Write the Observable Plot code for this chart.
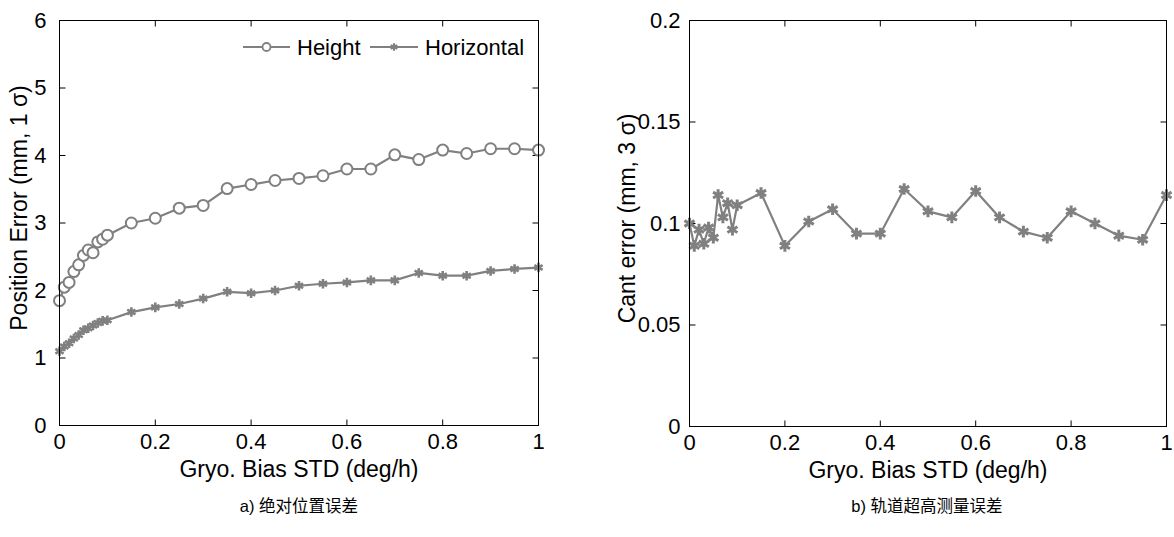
<!DOCTYPE html>
<html>
<head>
<meta charset="utf-8">
<script src="https://cdn.jsdelivr.net/npm/d3@7"></script>
<script src="https://cdn.jsdelivr.net/npm/@observablehq/plot@0.6"></script>
<style>
  body { margin: 0; background: white; }
  #wrap { position: relative; width: 1174px; height: 537px; overflow: hidden; background: white;
          font-family: "Liberation Sans", Arial, sans-serif; }
  .pane { position: absolute; top: 0; }
  .cap { position: absolute; top: 493px; font-size: 16.5px; text-align: center; width: 400px;
         font-family: "Liberation Sans", Arial, "Noto Sans CJK SC", sans-serif; color: #000; }
</style>
</head>
<body>
<div id="wrap">
  <div class="pane" id="left" style="left:0px"></div>
  <div class="pane" id="right" style="left:587px"></div>
  <div class="cap" style="left:99px">a) 绝对位置误差</div>
  <div class="cap" style="left:727px">b) 轨道超高测量误差</div>
</div>
<script>
// ---- data ----
const gyroBias = [0, 0.01, 0.02, 0.03, 0.04, 0.05, 0.06, 0.07, 0.08, 0.09, 0.1,
  0.15, 0.2, 0.25, 0.3, 0.35, 0.4, 0.45, 0.5, 0.55, 0.6, 0.65, 0.7, 0.75, 0.8, 0.85, 0.9, 0.95, 1.0];
const heightErr = [1.85, 2.05, 2.12, 2.28, 2.38, 2.52, 2.6, 2.56, 2.72, 2.76, 2.82,
  3.00, 3.07, 3.22, 3.26, 3.51, 3.57, 3.63, 3.66, 3.70, 3.80, 3.80, 4.01, 3.94, 4.08, 4.03, 4.10, 4.10, 4.08];
const horizErr = [1.10, 1.17, 1.22, 1.29, 1.34, 1.41, 1.44, 1.48, 1.52, 1.55, 1.56,
  1.68, 1.75, 1.80, 1.88, 1.98, 1.96, 2.00, 2.07, 2.10, 2.12, 2.15, 2.15, 2.26, 2.22, 2.22, 2.29, 2.32, 2.34];
const cantErr = [0.100, 0.089, 0.097, 0.090, 0.098, 0.093, 0.114, 0.103, 0.110, 0.097, 0.109,
  0.115, 0.089, 0.101, 0.107, 0.095, 0.095, 0.117, 0.106, 0.103, 0.116, 0.103, 0.096, 0.093, 0.106, 0.100, 0.094, 0.092, 0.114];
const xTicks = [0, 0.2, 0.4, 0.6, 0.8, 1];
const yTicksLeft = [0, 1, 2, 3, 4, 5, 6];
const yTicksRight = [0, 0.05, 0.1, 0.15, 0.2];
const seriesNames = ["Height", "Horizontal"];
const xLabel = "Gryo. Bias STD (deg/h)";
const yLabelLeft = "Position Error (mm, 1 σ)";
const yLabelRight = "Cant error (mm, 3 σ)";

const gray = "#808080";
const font = "'Liberation Sans', Arial, sans-serif";

const dataLeft = gyroBias.map((x, i) => ({x, h: heightErr[i], z: horizErr[i]}));
const dataRight = gyroBias.map((x, i) => ({x, c: cantErr[i]}));

function tickMarks(xDom, yDom, xT, yT, plotW, plotH, len) {
  const lx = (xDom[1] - xDom[0]) * len / plotW;
  const ly = (yDom[1] - yDom[0]) * len / plotH;
  return [
    Plot.link(yT, {x1: xDom[0], x2: xDom[0] + lx, y1: d => d, y2: d => d, stroke: "black"}),
    Plot.link(yT, {x1: xDom[1], x2: xDom[1] - lx, y1: d => d, y2: d => d, stroke: "black"}),
    Plot.link(xT, {y1: yDom[0], y2: yDom[0] + ly, x1: d => d, x2: d => d, stroke: "black"}),
    Plot.link(xT, {y1: yDom[1], y2: yDom[1] - ly, x1: d => d, x2: d => d, stroke: "black"})
  ];
}

const W = 587, H = 485;

// ---- left panel ----
{
  const mL = 59, mR = 49, mT = 20, mB = 60;
  const xDom = [0, 1], yDom = [0, 6];
  const plot = Plot.plot({
    width: W, height: H, marginLeft: mL, marginRight: mR, marginTop: mT, marginBottom: mB,
    x: {domain: xDom}, y: {domain: yDom},
    style: {fontFamily: font, fontSize: "22px", background: "transparent", color: "black", overflow: "visible"},
    marks: [
      Plot.axisX({ticks: xTicks, tickSize: 0, tickPadding: 8, tickFormat: d => String(d), label: null}),
      Plot.axisY({ticks: yTicksLeft, tickSize: 0, tickPadding: 13, tickFormat: d => String(d), label: null}),
      ...tickMarks(xDom, yDom, xTicks, yTicksLeft, W - mL - mR, H - mT - mB, 6),
      Plot.line(dataLeft, {x: "x", y: "h", stroke: gray, strokeWidth: 2.2}),
      Plot.dot(dataLeft, {x: "x", y: "h", r: 5.5, stroke: gray, strokeWidth: 2, fill: "white"}),
      Plot.line(dataLeft, {x: "x", y: "z", stroke: gray, strokeWidth: 2.2}),
      Plot.dot(dataLeft, {x: "x", y: "z", r: 4.5, symbol: "asterisk", stroke: gray, strokeWidth: 2.6}),
      Plot.frame({stroke: "black"}),
      Plot.text([yLabelLeft], {text: d => d, frameAnchor: "left", textAnchor: "middle", lineAnchor: "middle",
        rotate: -90, dx: -40, dy: -15, fontSize: 23}),
      Plot.text([xLabel], {text: d => d, frameAnchor: "bottom", textAnchor: "middle", lineAnchor: "middle",
        dy: 44, fontSize: 23})
    ]
  });
  document.getElementById("left").appendChild(plot);

  // legend overlay
  const svg = d3.select("#left").append("svg")
    .attr("width", W).attr("height", 80)
    .style("position", "absolute").style("left", "0px").style("top", "0px")
    .style("pointer-events", "none").style("font-family", font).style("font-size", "22px");
  const ly = 47;
  const items = [
    {x0: 243, x1: 290, tx: 297, name: seriesNames[0], sym: "circle"},
    {x0: 370, x1: 418, tx: 425, name: seriesNames[1], sym: "asterisk"}
  ];
  for (const it of items) {
    svg.append("line").attr("x1", it.x0).attr("x2", it.x1).attr("y1", ly).attr("y2", ly)
      .attr("stroke", gray).attr("stroke-width", 2);
    const cx = (it.x0 + it.x1) / 2;
    if (it.sym === "circle") {
      svg.append("circle").attr("cx", cx).attr("cy", ly).attr("r", 4)
        .attr("fill", "white").attr("stroke", gray).attr("stroke-width", 1.8);
    } else {
      svg.append("path").attr("transform", `translate(${cx},${ly})`)
        .attr("d", d3.symbol(d3.symbolAsterisk, 40)())
        .attr("fill", "none").attr("stroke", gray).attr("stroke-width", 2.2);
    }
    svg.append("text").attr("x", it.tx).attr("y", ly).attr("dy", "0.36em").text(it.name);
  }
}

// ---- right panel ----
{
  const mL = 102, mR = 8, mT = 20, mB = 59;
  const xDom = [0, 1], yDom = [0, 0.2];
  const plot = Plot.plot({
    width: W, height: H, marginLeft: mL, marginRight: mR, marginTop: mT, marginBottom: mB,
    x: {domain: xDom}, y: {domain: yDom},
    style: {fontFamily: font, fontSize: "22px", background: "transparent", color: "black", overflow: "visible"},
    marks: [
      Plot.axisX({ticks: xTicks, tickSize: 0, tickPadding: 8, tickFormat: d => String(d), label: null}),
      Plot.axisY({ticks: yTicksRight, tickSize: 0, tickPadding: 9, tickFormat: d => String(d), label: null}),
      ...tickMarks(xDom, yDom, xTicks, yTicksRight, W - mL - mR, H - mT - mB, 6),
      Plot.line(dataRight, {x: "x", y: "c", stroke: gray, strokeWidth: 2.2}),
      Plot.dot(dataRight, {x: "x", y: "c", r: 5.5, symbol: "asterisk", stroke: gray, strokeWidth: 3}),
      Plot.frame({stroke: "black"}),
      Plot.text([yLabelRight], {text: d => d, frameAnchor: "left", textAnchor: "middle", lineAnchor: "middle",
        rotate: -90, dx: -62, dy: -5, fontSize: 23}),
      Plot.text([xLabel], {text: d => d, frameAnchor: "bottom", textAnchor: "middle", lineAnchor: "middle",
        dy: 44, fontSize: 23})
    ]
  });
  document.getElementById("right").appendChild(plot);
}
</script>
</body>
</html>
